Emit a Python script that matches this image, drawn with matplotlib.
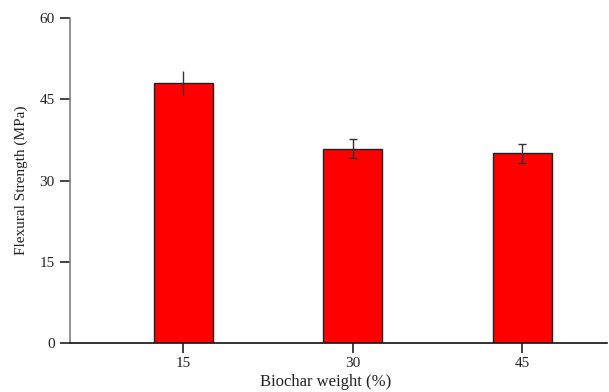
import numpy as np
import matplotlib
matplotlib.use("Agg")
import matplotlib.pyplot as plt

# biochar loading vs flexural strength
weights = [15, 30, 45]
strength = [48.0, 35.9, 35.0]
errors = [2.3, 1.8, 1.75]
capsizes = [0, 3, 3]

plt.rcParams['font.family'] = ['Liberation Serif', 'DejaVu Serif']

fig = plt.figure(figsize=(6.09, 3.92), dpi=100)
ax = fig.add_axes([0.115, 0.125, 0.882, 0.829])

ax.bar(weights, strength, width=5.2, color='#ff0000', edgecolor='#222222', linewidth=1.0, zorder=2)
for x, y, e, c in zip(weights, strength, errors, capsizes):
    ax.errorbar(x, y, yerr=e, fmt='none', ecolor='#333333', elinewidth=1.0, capsize=c, capthick=1.0, zorder=3)

ax.set_xlim(5, 52.5)
ax.set_ylim(0, 60)
ax.set_xticks(weights)
ax.set_yticks([0, 15, 30, 45, 60])

for s in ['top', 'right']:
    ax.spines[s].set_visible(False)
ax.spines['left'].set_color('#7f7f7f')
ax.spines['left'].set_linewidth(1.2)
ax.spines['bottom'].set_color('#111111')
ax.spines['bottom'].set_linewidth(1.2)
ax.tick_params(axis='y', direction='out', length=7, width=1.2, color='#222222', labelsize=11, pad=4, labelcolor='#222222')
ax.tick_params(axis='x', direction='out', length=7, width=1.2, color='#222222', labelsize=11, pad=3, labelcolor='#222222')

ax.set_xlabel('Biochar weight (%)', fontsize=12, color='#222222')
ax.set_ylabel('Flexural Strength (MPa)', fontsize=11, color='#222222')
ax.xaxis.set_label_coords(0.475, -0.095)
ax.yaxis.set_label_coords(-0.078, 0.5)

fig.savefig('out.png', dpi=100)
